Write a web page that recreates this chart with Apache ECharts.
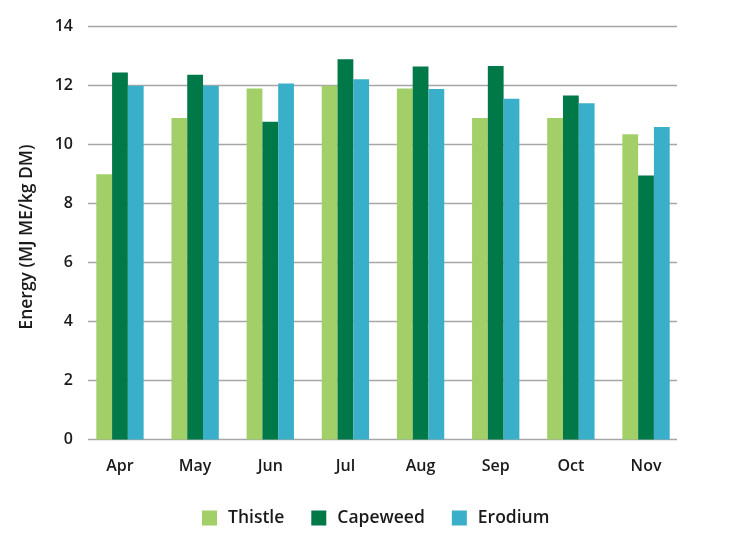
<!DOCTYPE html>
<html>
<head>
<meta charset="utf-8">
<script src="https://cdn.jsdelivr.net/npm/echarts@6/dist/echarts.min.js"></script>
<style>html,body{margin:0;padding:0;background:#fff}#c{width:732px;height:536px}</style>
</head>
<body>
<div id="c"></div>
<script>
var months = ['Apr', 'May', 'Jun', 'Jul', 'Aug', 'Sep', 'Oct', 'Nov'];
var thistle = [9.0, 10.9, 11.9, 12.0, 11.9, 10.9, 10.9, 10.35];
var capeweed = [12.45, 12.37, 10.78, 12.9, 12.65, 12.67, 11.67, 8.95];
var erodium = [12.0, 12.0, 12.07, 12.22, 11.89, 11.56, 11.4, 10.6];
var yTicks = [0, 2, 4, 6, 8, 10, 12, 14];

var FONT = 'Open Sans';
var TXT = '#1a1a1a';
var chart = echarts.init(document.getElementById('c'), null, {renderer: 'canvas'});
chart.setOption({
  animation: false,
  textStyle: {fontFamily: FONT},
  grid: [
    {left: 88, right: 55, top: 26.7, bottom: 96.5},
    {left: 82.4, right: 48.4, top: 26.7, bottom: 96.5}
  ],
  legend: {
    data: ['Thistle', 'Capeweed', 'Erodium'],
    top: 504,
    left: 197,
    itemWidth: 15,
    itemHeight: 15,
    itemGap: 27,
    icon: 'rect',
    textStyle: {fontSize: 17.5, fontWeight: 600, color: TXT, fontFamily: FONT, padding: [0, 0, 0, 6]}
  },
  xAxis: [
    {gridIndex: 0, type: 'value', min: 0, max: 1, show: false},
    {
      gridIndex: 1, type: 'category', data: months,
      axisLine: {show: false}, axisTick: {show: false},
      axisLabel: {fontSize: 16, fontWeight: 600, color: TXT, margin: 19, fontFamily: FONT}
    }
  ],
  yAxis: [
    {
      gridIndex: 0, type: 'value', min: yTicks[0], max: yTicks[yTicks.length - 1], interval: 2,
      name: 'Energy (MJ ME/kg DM)', nameLocation: 'middle', nameGap: 52,
      nameTextStyle: {fontSize: 17.5, fontWeight: 600, color: TXT, fontFamily: FONT, padding: [0, 8, 0, 0]},
      axisLine: {show: false}, axisTick: {show: false},
      axisLabel: {fontSize: 16, fontWeight: 600, color: TXT, margin: 15, fontFamily: FONT},
      splitLine: {lineStyle: {color: '#a6a6a6', width: 1.3}}
    },
    {gridIndex: 1, type: 'value', min: 0, max: 14, show: false}
  ],
  series: [
    {name: 'Thistle', type: 'bar', xAxisIndex: 1, yAxisIndex: 1, data: thistle,
     itemStyle: {color: '#a3cf68'}, barGap: '0%', barCategoryGap: '37%'},
    {name: 'Capeweed', type: 'bar', xAxisIndex: 1, yAxisIndex: 1, data: capeweed,
     itemStyle: {color: '#007848'}, barGap: '0%', barCategoryGap: '37%'},
    {name: 'Erodium', type: 'bar', xAxisIndex: 1, yAxisIndex: 1, data: erodium,
     itemStyle: {color: '#3aafc9'}, barGap: '0%', barCategoryGap: '37%'}
  ]
});
</script>
</body>
</html>
